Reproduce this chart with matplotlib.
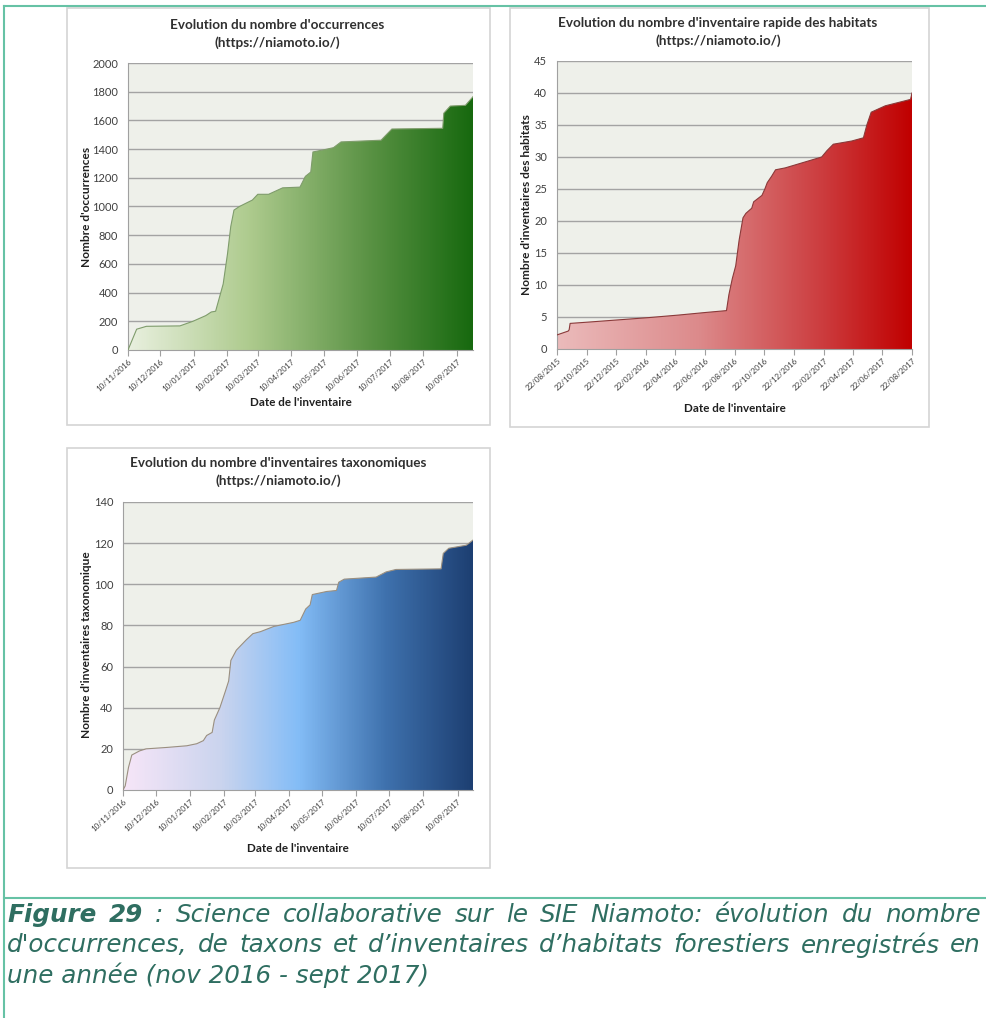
import matplotlib.pyplot as plt
import matplotlib.dates as mdates
import numpy as np
from matplotlib.colors import LinearSegmentedColormap
from matplotlib.patches import Polygon, Rectangle
from matplotlib.lines import Line2D

W, H = 987, 1018
plt.rcParams["font.family"] = ["Lato", "DejaVu Sans"]

# --- data ----------------------------------------------------------------
occ_dates = ["2016-11-10", "2016-11-18", "2016-11-27", "2016-12-28", "2017-01-09",
             "2017-01-21", "2017-01-26", "2017-01-30", "2017-02-06", "2017-02-10",
             "2017-02-13", "2017-02-16", "2017-02-21", "2017-03-05", "2017-03-10",
             "2017-03-20", "2017-04-02", "2017-04-18", "2017-04-23", "2017-04-28",
             "2017-04-30", "2017-05-10", "2017-05-19", "2017-05-26", "2017-07-02",
             "2017-07-12", "2017-08-28", "2017-08-29", "2017-09-04", "2017-09-18",
             "2017-09-25"]
occ_values = [0, 145, 165, 168, 200, 240, 265, 270, 460, 670, 860, 975, 1000, 1045,
              1085, 1085, 1130, 1135, 1210, 1240, 1380, 1395, 1410, 1450, 1462, 1540,
              1545, 1650, 1700, 1705, 1765]

hab_dates = ["2015-08-22", "2015-09-14", "2015-09-16", "2015-09-18", "2015-10-25",
             "2016-02-26", "2016-04-28", "2016-06-22", "2016-08-05", "2016-08-10",
             "2016-08-17", "2016-08-24", "2016-08-31", "2016-09-08", "2016-09-14",
             "2016-09-26", "2016-09-30", "2016-10-17", "2016-10-23", "2016-10-28",
             "2016-11-06", "2016-11-14", "2016-12-04", "2017-02-17", "2017-02-28",
             "2017-03-13", "2017-04-20", "2017-05-14", "2017-05-21", "2017-05-30",
             "2017-06-28", "2017-08-19", "2017-08-22"]
hab_values = [2.2, 2.8, 3.0, 4.0, 4.2, 4.9, 5.3, 5.7, 6.0, 8.5, 11, 13, 17, 20.5,
              21.2, 22, 23, 24, 25, 26, 27, 28, 28.3, 30, 31, 32, 32.5, 33, 35, 37,
              38, 39, 40]

tax_dates = ["2016-11-10", "2016-11-12", "2016-11-15", "2016-11-18", "2016-11-25",
             "2016-12-01", "2016-12-20", "2017-01-07", "2017-01-16", "2017-01-22",
             "2017-01-25", "2017-01-30", "2017-02-01", "2017-02-06", "2017-02-11",
             "2017-02-14", "2017-02-16", "2017-02-21", "2017-03-02", "2017-03-08",
             "2017-03-15", "2017-03-27", "2017-04-14", "2017-04-20", "2017-04-25",
             "2017-04-29", "2017-05-01", "2017-05-14", "2017-05-23", "2017-05-25",
             "2017-05-30", "2017-06-28", "2017-07-07", "2017-07-16", "2017-08-26",
             "2017-08-28", "2017-09-02", "2017-09-18", "2017-09-24"]
tax_values = [0, 2, 11, 17, 19, 20, 20.7, 21.5, 22.5, 24, 26.5, 28, 34, 40, 48, 53,
              63, 68, 73, 76, 77, 79.5, 81.5, 82.5, 88, 90, 95, 96.5, 97, 101, 102.5,
              103.5, 106, 107.2, 107.5, 115, 117.5, 119, 121.5]

monthly_ticks = ["2016-11-10", "2016-12-10", "2017-01-10", "2017-02-10", "2017-03-10",
                 "2017-04-10", "2017-05-10", "2017-06-10", "2017-07-10", "2017-08-10",
                 "2017-09-10"]
bimonthly_ticks = ["2015-08-22", "2015-10-22", "2015-12-22", "2016-02-22", "2016-04-22",
                   "2016-06-22", "2016-08-22", "2016-10-22", "2016-12-22", "2017-02-22",
                   "2017-04-22", "2017-06-22", "2017-08-22"]

caption_line1 = ["Figure", "29", ":", "Science", "collaborative", "sur", "le", "SIE",
                 "Niamoto:", "évolution", "du", "nombre"]
caption_line2 = ["d'occurrences,", "de", "taxons", "et", "d’inventaires", "d’habitats",
                 "forestiers", "enregistrés", "en"]
caption_line3 = "une année (nov 2016 - sept 2017)"

green = LinearSegmentedColormap.from_list(
    "g", [(0, "#e9f0df"), (0.35, "#aecb8e"), (0.7, "#5a9244"), (1, "#17690f")])
red = LinearSegmentedColormap.from_list(
    "r", [(0, "#ebbbbb"), (0.4, "#dc8a8b"), (0.75, "#cc3c3e"), (1, "#c00000")])
blue = LinearSegmentedColormap.from_list(
    "b", [(0, "#f7e6f8"), (0.28, "#cad4ee"), (0.5, "#84bdf7"), (0.75, "#3f72ae"),
          (1, "#1d3f72")])

TEAL = "#66c2a5"
TEXT = "#404040"


def fx(x):
    return x / W


def fy(y):
    return 1 - y / H


def to_num(ds):
    return mdates.datestr2num(ds)


def draw_chart(fig, axbox, panel, dates, values, xlim, ticks, ymax, ystep,
               cmap, edge, title, title_xy, ylabel, ylabel_xy, xlabel_y):
    x0, y0, x1, y1 = panel
    fig.add_artist(Rectangle((fx(x0), fy(y1)), fx(x1 - x0), (y1 - y0) / H,
                             transform=fig.transFigure, facecolor="white",
                             edgecolor="#d4d4d4", lw=1.2, zorder=-10))
    ax0, ay0, ax1, ay1 = axbox
    ax = fig.add_axes([fx(ax0), fy(ay1), fx(ax1 - ax0), (ay1 - ay0) / H])
    ax.set_facecolor("#eef0ea")

    xs = to_num(dates)
    xl = to_num(xlim)
    ax.set_xlim(xl)
    ax.set_ylim(0, ymax)

    # area under the curve, filled with a horizontal gradient
    verts = [(xs[0], 0)] + list(zip(xs, values)) + [(xs[-1], 0)]
    poly = Polygon(verts, closed=True, facecolor="none", edgecolor="none")
    ax.add_patch(poly)
    grad = np.linspace(0, 1, 400).reshape(1, -1)
    im = ax.imshow(grad, cmap=cmap, extent=[xl[0], xl[1], 0, ymax],
                   aspect="auto", origin="lower", zorder=2, interpolation="bilinear")
    im.set_clip_path(poly)
    ax.plot(xs, values, color=edge, lw=0.8, zorder=3)

    ax.set_yticks(np.arange(0, ymax + ystep / 2, ystep))
    ax.yaxis.grid(True, color="#a3a3a3", lw=1)
    ax.set_axisbelow(True)
    ax.tick_params(axis="y", length=0, pad=7, labelsize=8, labelcolor=TEXT)

    ax.set_xticks(to_num(ticks))
    ax.xaxis.set_major_formatter(mdates.DateFormatter("%d/%m/%Y"))
    ax.tick_params(axis="x", length=4, color="#a0a0a0", labelsize=5.8,
                   labelcolor=TEXT, pad=2)
    for lab in ax.get_xticklabels():
        lab.set_rotation(42)
        lab.set_ha("right")
        lab.set_rotation_mode("anchor")

    for s in ["top", "right"]:
        ax.spines[s].set_visible(False)
    for s in ["left", "bottom"]:
        ax.spines[s].set_color("#a0a0a0")

    tx, ty = title_xy
    fig.text(fx(tx), fy(ty), title[0], ha="center", va="center",
             fontsize=9.7, weight="bold", color="#303030")
    fig.text(fx(tx), fy(ty + 18), title[1], ha="center", va="center",
             fontsize=9.7, weight="bold", color="#303030")
    fig.text(fx(ylabel_xy[0]), fy(ylabel_xy[1]), ylabel, rotation=90,
             ha="center", va="center", fontsize=8.6, weight="bold", color="#202020")
    fig.text(fx((ax0 + ax1) / 2), fy(xlabel_y), "Date de l'inventaire",
             ha="center", va="center", fontsize=8.4, weight="bold", color="#202020")
    return ax


def justify(fig, renderer, words, nbold, x0, x1, y, size):
    texts = []
    for i, w in enumerate(words):
        texts.append(fig.text(0, fy(y), w, fontsize=size, color="#2f6e61",
                              style="italic", family="DejaVu Sans",
                              weight="bold" if i < nbold else "normal",
                              va="center", ha="left"))
    widths = [t.get_window_extent(renderer).width for t in texts]
    gap = (x1 - x0 - sum(widths)) / (len(texts) - 1)
    x = x0
    for t, w in zip(texts, widths):
        t.set_x(fx(x))
        x += w + gap


fig = plt.figure(figsize=(W / 100, H / 100), dpi=100)

draw_chart(fig, (128, 63, 473, 350), (67, 8, 490, 425), occ_dates, occ_values,
           ["2016-11-10", "2017-09-25"], monthly_ticks, 2000, 200, green, "#7f9c6c",
           ("Evolution du nombre d'occurrences", "(https://niamoto.io/)"), (277, 25),
           "Nombre d'occurrences", (86, 207), 402)

draw_chart(fig, (557, 61, 912, 349), (510, 8, 929, 427), hab_dates, hab_values,
           ["2015-08-22", "2017-08-22"], bimonthly_ticks, 45, 5, red, "#8a3a3a",
           ("Evolution du nombre d'inventaire rapide des habitats", "(https://niamoto.io/)"),
           (718, 23), "Nombre d'inventaires des habitats", (526, 205), 408)

draw_chart(fig, (123, 502, 473, 790), (67, 448, 490, 868), tax_dates, tax_values,
           ["2016-11-10", "2017-09-24"], monthly_ticks, 140, 20, blue, "#9a8f80",
           ("Evolution du nombre d'inventaires taxonomiques", "(https://niamoto.io/)"),
           (278, 463), "Nombre d'inventaires taxonomique", (87, 645), 849)

# page frame lines
fig.add_artist(Line2D([fx(4), 1], [fy(6), fy(6)], color=TEAL, lw=1.5))
fig.add_artist(Line2D([fx(4), fx(4)], [fy(6), 0], color=TEAL, lw=1.5))
fig.add_artist(Line2D([fx(4), 1], [fy(898), fy(898)], color=TEAL, lw=1.5))

renderer = fig.canvas.get_renderer()
cap_size = 17.7
justify(fig, renderer, caption_line1, 2, 7, 981, 915, cap_size)
justify(fig, renderer, caption_line2, 0, 7, 981, 945, cap_size)
fig.text(fx(7), fy(975), caption_line3, fontsize=cap_size, color="#2f6e61",
         style="italic", family="DejaVu Sans", va="center", ha="left")

fig.savefig("out.png", dpi=100)
